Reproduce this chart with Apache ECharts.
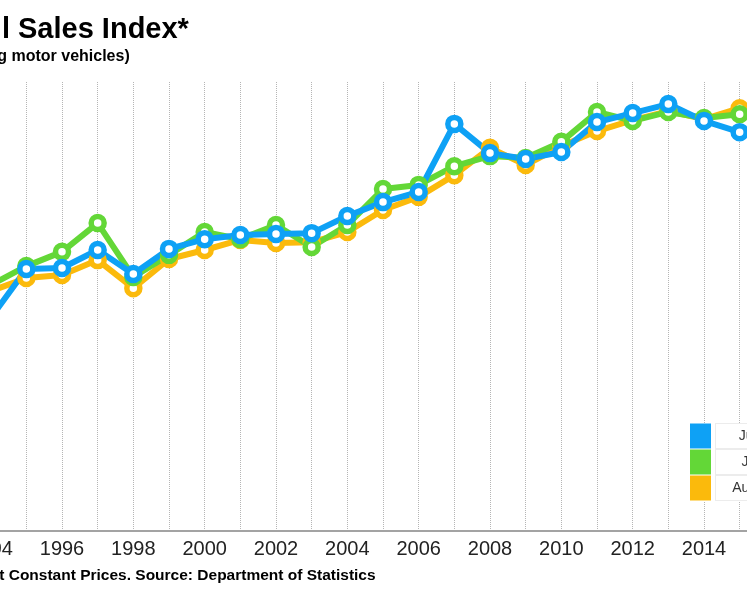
<!DOCTYPE html>
<html>
<head>
<meta charset="utf-8">
<title>Retail Sales Index</title>
<script src="https://cdn.jsdelivr.net/npm/echarts@6/dist/echarts.min.js"></script>
<style>
  html, body { margin: 0; padding: 0; width: 747px; height: 598px; overflow: hidden; background: #fff; }
  /* the chart is wider than the window and shifted left, so it is cut on both sides */
  #main { position: absolute; left: -130px; top: 0; width: 1007px; height: 598px; }
</style>
</head>
<body>
<div id="main"></div>
<script>
// 数据
var years = [1994, 1995, 1996, 1997, 1998, 1999, 2000, 2001, 2002, 2003, 2004,
  2005, 2006, 2007, 2008, 2009, 2010, 2011, 2012, 2013, 2014, 2015];
var juneIndex = [56.9, 70.0, 70.3, 75.1, 68.7, 75.4, 78.0, 79.1, 79.4, 79.6, 84.2,
  87.9, 90.6, 108.8, 101.0, 99.4, 101.3, 109.3, 111.7, 114.1, 109.6, 106.6];
var julyIndex = [65.7, 70.8, 74.6, 82.3, 67.9, 73.8, 79.9, 78.0, 81.8, 75.9, 81.8,
  91.4, 92.5, 97.5, 100.2, 99.7, 104.0, 112.0, 109.6, 112.0, 110.4, 111.4];
var augustIndex = [64.1, 67.6, 68.4, 72.4, 64.9, 72.7, 75.1, 77.8, 77.0, 77.2, 79.9,
  85.8, 89.3, 95.1, 102.4, 97.8, 102.9, 106.9, 109.8, 112.2, 110.1, 113.0];
var seriesNames = ['June', 'July', 'August'];
var seriesColors = ['#0ea1f5', '#63d737', '#fbba0c'];

var font = '"Liberation Sans", Arial, Helvetica, sans-serif';

function pairs(values) {
  return years.map(function (y, i) { return [y, values[i]]; });
}

function lineSeries(name, color, values) {
  return {
    name: name,
    type: 'line',
    data: pairs(values),
    symbol: 'circle',
    symbolSize: 13,
    lineStyle: { width: 6, color: color },
    itemStyle: { color: '#fff', borderColor: color, borderWidth: 5.5 },
    emphasis: { disabled: true }
  };
}

var chart = echarts.init(document.getElementById('main'));

chart.setOption({
  animation: false,
  title: [
    {
      text: 'Retail Sales Index*',
      left: 56, top: 10,
      textStyle: { fontFamily: font, fontSize: 29, fontWeight: 'bold', color: '#000' }
    },
    {
      text: '(excluding motor vehicles)',
      left: 52, top: 44,
      textStyle: { fontFamily: font, fontSize: 16, fontWeight: 'bold', color: '#000' }
    },
    {
      text: '*At Constant Prices. Source: Department of Statistics',
      left: 107, top: 563,
      textStyle: { fontFamily: font, fontSize: 15.5, fontWeight: 'bold', color: '#000' }
    }
  ],
  legend: {
    data: seriesNames.map(function (n, i) {
      return { name: n, itemStyle: { color: seriesColors[i], borderWidth: 0 } };
    }),
    orient: 'vertical',
    left: 820, top: 423,
    padding: 0,
    itemGap: 0,
    itemWidth: 21,
    itemHeight: 25,
    icon: 'rect',
    backgroundColor: '#fff',
    selectedMode: false,
    formatter: '{a|{name}}',
    textStyle: {
      rich: {
        a: {
          width: 76, height: 24, align: 'center',
          fontFamily: font, fontSize: 14, color: '#333',
          backgroundColor: '#fff', borderColor: '#ececec', borderWidth: 1
        }
      }
    }
  },
  grid: { left: 85, right: 66, top: 82, bottom: 67 },
  xAxis: {
    type: 'value',
    min: 1993,
    max: 2017,
    interval: 1,
    axisLine: { show: true, lineStyle: { color: '#a3a3a3', width: 2 } },
    axisTick: { show: false },
    axisLabel: {
      margin: 8,
      fontFamily: font, fontSize: 20, color: '#222',
      formatter: function (v) { return v % 2 === 0 ? String(v) : ''; }
    },
    splitLine: { show: true, lineStyle: { color: '#b5b5b5', type: 'dotted', width: 1 } }
  },
  yAxis: {
    type: 'value',
    min: 0,
    max: 120,
    show: false,
    splitLine: { show: false }
  },
  series: [
    lineSeries(seriesNames[2], seriesColors[2], augustIndex),
    lineSeries(seriesNames[1], seriesColors[1], julyIndex),
    lineSeries(seriesNames[0], seriesColors[0], juneIndex)
  ]
});
</script>
</body>
</html>
